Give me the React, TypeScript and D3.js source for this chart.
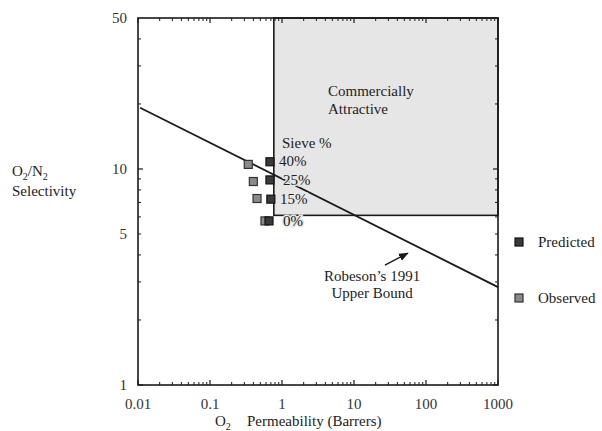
import * as d3 from "d3";

// chart box in the 602x431 picture
const W = 602;
const H = 431;
const left = 138;
const right = 498;
const top = 18;
const bottom = 385;

// axis ticks
const xTicks = [0.01, 0.1, 1, 10, 100, 1000];
const xTickLabels = ["0.01", "0.1", "1", "10", "100", "1000"];
const yTicks = [1, 5, 10, 50];
const yTickLabels = ["1", "5", "10", "50"];

// sieve loading series
const sieveLevels = ["40%", "25%", "15%", "0%"];
const predictedPerm = [0.68, 0.68, 0.7, 0.66];
const predictedSel = [10.8, 8.9, 7.25, 5.75];
const observedPerm = [0.34, 0.4, 0.45, 0.58];
const observedSel = [10.5, 8.75, 7.3, 5.75];

// Robeson 1991 upper bound (end points)
const robesonPerm = [0.0107, 1000];
const robesonSel = [19.2, 2.84];

// commercially attractive region
const attractivePerm = [0.77, 1000];
const attractiveSel = [6.1, 50];

// sieve % label anchors (data units)
const sieveLabelPerm = [0.91, 1.03, 0.94, 1.03];
const sieveLabelSel = [10.3, 8.42, 6.88, 5.44];

const FONT = "'Liberation Serif', 'Times New Roman', serif";

const x = d3.scaleLog().domain([0.01, 1000]).range([left, right]);
const y = d3.scaleLog().domain([1, 50]).range([bottom, top]);

// minor ticks 2..9 x 10^k inside domains
const minorX: number[] = [];
for (let k = -2; k < 3; k++) for (let m = 2; m <= 9; m++) minorX.push(m * Math.pow(10, k));
const minorY: number[] = [];
for (let k = 0; k < 2; k++)
  for (let m = 2; m <= 9; m++) {
    const v = m * Math.pow(10, k);
    if (v < 50) minorY.push(v);
  }
const majorY = [1, 10];

const Sub = ({ children }: { children: string }) => (
  <tspan fontSize={10} dy={4}>
    {children}
  </tspan>
);

export default function App() {
  const robesonLine = d3
    .line<number>()
    .x((d) => x(robesonPerm[d]))
    .y((d) => y(robesonSel[d]))([0, 1]);

  const box = 8;
  const ink = "#1a1a1a";

  return (
    <svg
      width={W}
      height={H}
      style={{ position: "absolute", left: 0, top: 0, background: "#fff" }}
      fontFamily={FONT}
    >
      <defs>
        <marker id="head" viewBox="0 0 10 10" refX="9" refY="5" markerWidth="7" markerHeight="7" orient="auto">
          <path d="M0,1 L10,5 L0,9 z" fill={ink} />
        </marker>
      </defs>

      {/* commercially attractive region */}
      <rect
        x={x(attractivePerm[0])}
        y={y(attractiveSel[1])}
        width={x(attractivePerm[1]) - x(attractivePerm[0])}
        height={y(attractiveSel[0]) - y(attractiveSel[1])}
        fill="#e6e6e6"
        stroke={ink}
        strokeWidth={1.6}
      />
      <text x={x(4.36)} y={y(21.8)} fontSize={15} fill="#222">Commercially</text>
      <text x={x(4.36)} y={y(17.9)} fontSize={15} fill="#222">Attractive</text>

      {/* Robeson upper bound */}
      <path d={robesonLine ?? ""} fill="none" stroke={ink} strokeWidth={1.8} />
      <line
        x1={x(26.9)}
        y1={y(3.59)}
        x2={x(56)}
        y2={y(4.08)}
        stroke={ink}
        strokeWidth={1.4}
        markerEnd="url(#head)"
      />
      <text x={x(17.8)} y={y(3.03)} fontSize={15} textAnchor="middle" fill="#222">Robeson’s 1991</text>
      <text x={x(17.8)} y={y(2.53)} fontSize={15} textAnchor="middle" fill="#222">Upper Bound</text>

      {/* observed / predicted points */}
      {observedPerm.map((p, i) => (
        <rect
          key={"o" + i}
          x={x(p) - box / 2}
          y={y(observedSel[i]) - box / 2}
          width={box}
          height={box}
          fill="#8a8a8a"
          stroke="#333"
          strokeWidth={1.2}
        />
      ))}
      {predictedPerm.map((p, i) => (
        <rect
          key={"p" + i}
          x={x(p) - box / 2}
          y={y(predictedSel[i]) - box / 2}
          width={box}
          height={box}
          fill="#3a3a3a"
          stroke="#111"
          strokeWidth={1.2}
        />
      ))}

      {/* sieve labels */}
      <text x={x(1.0)} y={y(12.5)} fontSize={15} fill="#222">Sieve %</text>
      {sieveLevels.map((s, i) => (
        <text
          key={s}
          x={x(sieveLabelPerm[i])}
          y={y(sieveLabelSel[i])}
          fontSize={15}
          fill="#222"
          stroke="#e6e6e6"
          strokeWidth={3}
          paintOrder="stroke"
        >
          {s}
        </text>
      ))}

      {/* frame */}
      <rect x={left} y={top} width={right - left} height={bottom - top} fill="none" stroke={ink} strokeWidth={1.6} />

      {/* ticks, all four sides, pointing in */}
      {minorX.map((v) => (
        <g key={"mx" + v}>
          <line x1={x(v)} x2={x(v)} y1={bottom} y2={bottom - 3} stroke={ink} strokeWidth={1} />
          <line x1={x(v)} x2={x(v)} y1={top} y2={top + 3} stroke={ink} strokeWidth={1} />
        </g>
      ))}
      {xTicks.map((v) => (
        <g key={"Mx" + v}>
          <line x1={x(v)} x2={x(v)} y1={bottom} y2={bottom - 5} stroke={ink} strokeWidth={1.2} />
          <line x1={x(v)} x2={x(v)} y1={top} y2={top + 5} stroke={ink} strokeWidth={1.2} />
        </g>
      ))}
      {minorY.map((v) => (
        <g key={"my" + v}>
          <line x1={left} x2={left + 3} y1={y(v)} y2={y(v)} stroke={ink} strokeWidth={1} />
          <line x1={right} x2={right - 3} y1={y(v)} y2={y(v)} stroke={ink} strokeWidth={1} />
        </g>
      ))}
      {majorY.map((v) => (
        <g key={"My" + v}>
          <line x1={left} x2={left + 5} y1={y(v)} y2={y(v)} stroke={ink} strokeWidth={1.2} />
          <line x1={right} x2={right - 5} y1={y(v)} y2={y(v)} stroke={ink} strokeWidth={1.2} />
        </g>
      ))}

      {/* tick labels */}
      {xTicks.map((v, i) => (
        <text key={"xl" + v} x={x(v)} y={bottom + 24} fontSize={15} textAnchor="middle" fill="#333">
          {xTickLabels[i]}
        </text>
      ))}
      {yTicks.map((v, i) => (
        <text key={"yl" + v} x={left - 11} y={y(v)} dy="0.35em" fontSize={15} textAnchor="end" fill="#333">
          {yTickLabels[i]}
        </text>
      ))}

      {/* axis titles */}
      <text x={12} y={176} fontSize={15} fill="#222">
        O<Sub>2</Sub>
        <tspan dy={-4}>/N</tspan>
        <Sub>2</Sub>
      </text>
      <text x={12} y={196} fontSize={15} fill="#222">Selectivity</text>
      <text x={215} y={426} fontSize={15} fill="#222">
        O<Sub>2</Sub>
        <tspan x={247} dy={-4}>Permeability (Barrers)</tspan>
      </text>

      {/* legend */}
      <rect x={right + 21 - box / 2} y={242 - box / 2} width={box} height={box} fill="#3a3a3a" stroke="#111" strokeWidth={1.2} />
      <text x={right + 40} y={247} fontSize={15} fill="#222">Predicted</text>
      <rect x={right + 21 - box / 2} y={298 - box / 2} width={box} height={box} fill="#8a8a8a" stroke="#333" strokeWidth={1.2} />
      <text x={right + 40} y={303} fontSize={15} fill="#222">Observed</text>
    </svg>
  );
}
